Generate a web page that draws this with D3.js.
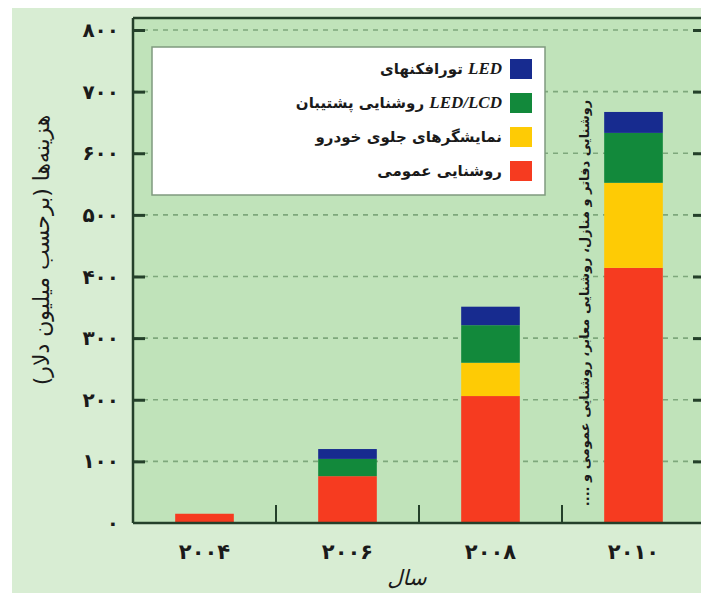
<!DOCTYPE html>
<html>
<head>
<meta charset="utf-8">
<script src="https://cdn.jsdelivr.net/npm/d3@7"></script>
<style>
  html, body { margin: 0; padding: 0; background: #ffffff; }
  svg { display: block; }
  text { font-family: "DejaVu Sans", "Noto Sans", sans-serif; fill: #1a1a1a; }
  .latin { font-family: "Liberation Serif", "DejaVu Serif", serif; font-style: italic; font-weight: bold; }
</style>
</head>
<body>
<svg id="chart" width="701" height="593"></svg>
<script>
// Years on the x axis and their Persian labels
const years = ["2004", "2006", "2008", "2010"];
const yearLabels = ["۲۰۰۴", "۲۰۰۶", "۲۰۰۸", "۲۰۱۰"];

// Spending per application, million dollars
const generalLighting = [15, 76, 206, 414];
const automotiveDisplays = [0, 0, 54, 138];
const lcdBacklight = [0, 28, 61, 81];
const ledLamps = [0, 16, 30, 34];

// Y tick values and their Persian labels
const yTicks = [0, 100, 200, 300, 400, 500, 600, 700, 800];
const yTickLabels = ["۰", "۱۰۰", "۲۰۰", "۳۰۰", "۴۰۰", "۵۰۰", "۶۰۰", "۷۰۰", "۸۰۰"];

// Series (bottom to top), legend labels and colours
const seriesKeys = ["general", "automotive", "backlight", "lamps"];
// Each legend label: Persian part plus an optional Latin part
const seriesNames = {
  general: ["روشنایی عمومی", ""],
  automotive: ["نمایشگرهای جلوی خودرو", ""],
  backlight: ["روشنایی پشتیبان ", "LED/LCD"],
  lamps: ["تورافکنهای ", "LED"]
};
const seriesColors = {
  general: "#f63b20",
  automotive: "#fecb05",
  backlight: "#12893b",
  lamps: "#172b8f"
};

const table = years.map((y, i) => ({
  year: y,
  general: generalLighting[i],
  automotive: automotiveDisplays[i],
  backlight: lcdBacklight[i],
  lamps: ledLamps[i]
}));

const svg = d3.select("#chart");
const W = 701, H = 593;
const plot = { left: 133, right: 705, top: 18, bottom: 523 };

// Outer panel
svg.append("rect").attr("x", 12).attr("y", 8).attr("width", W - 12).attr("height", H - 8)
  .attr("fill", "#d8edd3");

const x = d3.scaleBand().domain(years).range([plot.left, plot.right])
  .paddingInner(0.59).paddingOuter(0.295);
const y = d3.scaleLinear().domain([0, 800]).range([plot.bottom, 30]);

// Plot area
svg.append("rect")
  .attr("x", plot.left).attr("y", plot.top)
  .attr("width", plot.right - plot.left).attr("height", plot.bottom - plot.top)
  .attr("fill", "#c0e3ba");

// Dashed gridlines
svg.append("g").selectAll("line").data(yTicks.filter(d => d > 0)).join("line")
  .attr("x1", plot.left).attr("x2", plot.right)
  .attr("y1", d => y(d)).attr("y2", d => y(d))
  .attr("stroke", "#7ea87c").attr("stroke-width", 1.6)
  .attr("stroke-dasharray", "5,5");

// Legend box (drawn above the gridlines)
const legend = svg.append("g");
legend.append("rect").attr("x", 152).attr("y", 47).attr("width", 393).attr("height", 148)
  .attr("fill", "#ffffff").attr("stroke", "#7f9a7f").attr("stroke-width", 1.5);
const legendOrder = ["lamps", "backlight", "automotive", "general"];
legendOrder.forEach((k, i) => {
  const cy = 69 + i * 34;
  legend.append("rect").attr("x", 510).attr("y", cy - 10).attr("width", 22).attr("height", 20)
    .attr("fill", seriesColors[k]);
  const t = legend.append("text").attr("x", 502).attr("y", cy + 5)
    .attr("text-anchor", "end").attr("font-size", 15).attr("font-weight", "bold");
  t.append("tspan").text(seriesNames[k][0]);
  if (seriesNames[k][1]) {
    t.append("tspan").attr("class", "latin").attr("font-size", 17).text(seriesNames[k][1]);
  }
});

// Stacked bars
const stacked = d3.stack().keys(seriesKeys)(table);
svg.append("g").selectAll("g").data(stacked).join("g")
  .attr("fill", d => seriesColors[d.key])
  .selectAll("rect").data(d => d).join("rect")
  .attr("x", d => x(d.data.year))
  .attr("width", x.bandwidth())
  .attr("y", d => y(d[1]))
  .attr("height", d => y(d[0]) - y(d[1]));

// Frame lines
const frame = svg.append("g").attr("stroke", "#24402a").attr("stroke-width", 2.5);
frame.append("line").attr("x1", plot.left).attr("x2", plot.right).attr("y1", plot.top).attr("y2", plot.top);
frame.append("line").attr("x1", plot.left).attr("x2", plot.left).attr("y1", plot.top).attr("y2", plot.bottom);
frame.append("line").attr("x1", plot.left).attr("x2", plot.right).attr("y1", plot.bottom).attr("y2", plot.bottom);

// Y axis: inward ticks on both sides, Persian labels
const yAxisLeft = d3.axisRight(y).tickValues(yTicks).tickSize(12).tickFormat("");
const gl = svg.append("g").attr("transform", `translate(${plot.left},0)`).call(yAxisLeft);
const yAxisRight = d3.axisLeft(y).tickValues(yTicks).tickSize(12).tickFormat("");
const gr = svg.append("g").attr("transform", `translate(${plot.right},0)`).call(yAxisRight);
[gl, gr].forEach(g => {
  g.select(".domain").remove();
  g.selectAll(".tick line").attr("stroke", "#24402a").attr("stroke-width", 3);
  g.selectAll(".tick").filter(d => d === 0).remove();
});
svg.append("g").selectAll("text").data(yTicks).join("text")
  .attr("x", 119).attr("y", d => y(d) + 7)
  .attr("text-anchor", "end").attr("font-size", 20).attr("font-weight", "bold")
  .attr("letter-spacing", 1)
  .text((d, i) => yTickLabels[i]);

// X axis: minor ticks between the bars, labels under each bar
const boundaries = years.slice(1).map(yr => x(yr) - x.step() * x.paddingInner() / 2);
svg.append("g").selectAll("line").data(boundaries).join("line")
  .attr("x1", d => d).attr("x2", d => d)
  .attr("y1", plot.bottom).attr("y2", plot.bottom - 18)
  .attr("stroke", "#24402a").attr("stroke-width", 2);
svg.append("g").selectAll("text").data(years).join("text")
  .attr("x", d => x(d) + x.bandwidth() / 2).attr("y", 559)
  .attr("text-anchor", "middle").attr("font-size", 21).attr("font-weight", "bold")
  .attr("letter-spacing", 2)
  .text((d, i) => yearLabels[i]);

// Axis titles
svg.append("text").attr("x", 407).attr("y", 585)
  .attr("text-anchor", "middle").attr("font-size", 21).attr("font-style", "italic")
  .text("سال");
svg.append("text").attr("transform", "translate(49,250) rotate(-90)")
  .attr("text-anchor", "middle").attr("font-size", 22)
  .attr("direction", "rtl")
  .text("هزینه‌ها (برحسب میلیون دلار)");

// Note beside the 2010 bar
svg.append("text").attr("transform", "translate(589,303) rotate(-90)")
  .attr("text-anchor", "middle").attr("font-size", 13).attr("font-weight", "bold")
  .attr("direction", "rtl")
  .text("روشنایی دفاتر و منازل، روشنایی معابر، روشنایی عمومی و ....");
</script>
</body>
</html>
